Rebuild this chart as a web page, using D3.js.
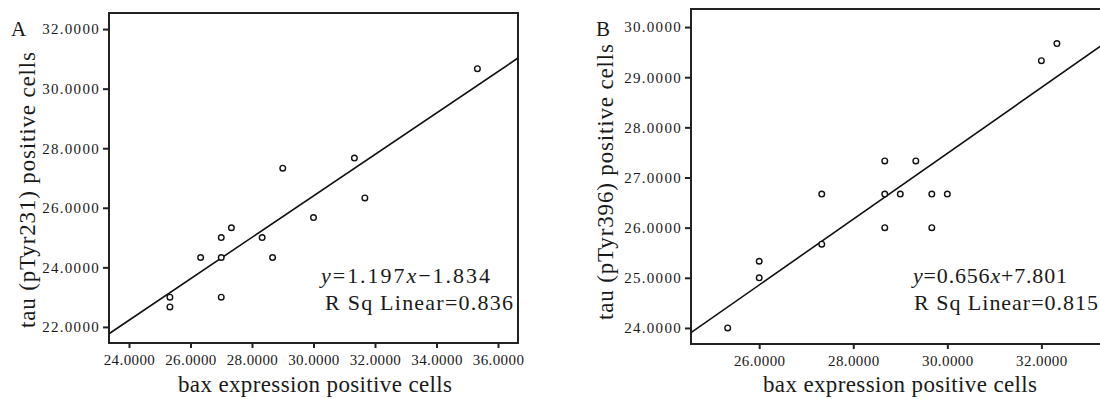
<!DOCTYPE html>
<html><head><meta charset="utf-8">
<script src="https://cdn.jsdelivr.net/npm/d3@7"></script>
<style>
body{margin:0;background:#fff;}
text{font-family:"Liberation Serif","Times New Roman",serif;fill:#1a1a1a;}
</style></head>
<body><svg id="c" width="1100" height="399"></svg>
<script>
// ---- data ----
const baxA   = [25.33,25.33,26.33,27.00,27.00,27.00,27.33,28.33,28.67,29.00,30.00,31.33,31.67,35.33];
const tau231 = [23.00,22.67,24.33,25.00,24.33,23.00,25.33,25.00,24.33,27.33,25.67,27.67,26.33,30.67];
const baxB   = [25.33,26.00,26.00,27.33,27.33,28.67,28.67,28.67,29.00,29.33,29.67,29.67,30.00,32.00,32.33];
const tau396 = [24.00,25.00,25.33,25.67,26.67,27.33,26.67,26.00,26.67,27.33,26.67,26.00,26.67,29.33,29.67];
const xTicksA = [24,26,28,30,32,34,36];
const yTicksA = [22,24,26,28,30,32];
const xTicksB = [26,28,30,32];
const yTicksB = [24,25,26,27,28,29,30];
const fitA = [0.696, 5.52];   // slope, intercept of drawn line (panel A)
const fitB = [0.656, 7.801];  // panel B
const eqA = ["1.197", "1.834", "0.836"];
const eqB = ["0.656", "7.801", "0.815"];
const xTitle = "bax expression positive cells";
const yTitleA = "tau (pTyr231) positive cells";
const yTitleB = "tau (pTyr396) positive cells";

const svg = d3.select("#c");
const fmt = d3.format(".4f");

function panel(o){
  const g = svg.append("g");
  const x = d3.scaleLinear().domain(o.xd).range([o.L, o.R]);
  const y = d3.scaleLinear().domain(o.yd).range([o.B, o.T]);
  // frame
  g.append("rect").attr("x",o.L).attr("y",o.T).attr("width",o.R-o.L).attr("height",o.B-o.T)
    .attr("fill","none").attr("stroke","#222").attr("stroke-width",2);
  // axes
  const ya = g.append("g").attr("transform",`translate(${o.L},0)`)
    .call(d3.axisLeft(y).tickValues(o.yt).tickSize(6).tickPadding(3).tickFormat(fmt));
  ya.select(".domain").remove();
  ya.selectAll("line").attr("stroke","#222").attr("stroke-width",2);
  ya.selectAll("text").attr("font-size",15).attr("letter-spacing",o.ylsp).attr("fill","#333")
    .style("font-family",'"Liberation Serif",serif');
  const xa = g.append("g").attr("transform",`translate(0,${o.B})`)
    .call(d3.axisBottom(x).tickValues(o.xt).tickSize(5).tickPadding(6).tickFormat(fmt));
  xa.select(".domain").remove();
  xa.selectAll("line").attr("stroke","#222").attr("stroke-width",2);
  xa.selectAll("text").attr("font-size",o.xfs).attr("letter-spacing",o.xlsp).attr("fill","#333")
    .style("font-family",'"Liberation Serif",serif');
  // fit line
  const x0 = o.xd[0], x1 = o.lineX1 ?? o.xd[1];
  g.append("line").attr("x1",x(x0)).attr("y1",y(o.fit[0]*x0+o.fit[1]))
    .attr("x2",x(x1)).attr("y2",y(o.fit[0]*x1+o.fit[1]))
    .attr("stroke","#111").attr("stroke-width",1.6);
  // points
  g.selectAll("circle.p").data(o.xs.map((v,i)=>[v,o.ys[i]])).join("circle")
    .attr("cx",d=>x(d[0])).attr("cy",d=>y(d[1])).attr("r",2.8)
    .attr("fill","#fff").attr("stroke","#111").attr("stroke-width",1.4);
  // titles
  g.append("text").attr("x",o.xtx).attr("y",392).attr("text-anchor","middle")
    .attr("font-size",23).attr("textLength",274).attr("lengthAdjust","spacing").text(xTitle);
  g.append("text").attr("transform",`translate(${o.ytx},${o.yty}) rotate(-90)`).attr("text-anchor","middle")
    .attr("font-size",23).attr("textLength",276).attr("lengthAdjust","spacing").text(o.ytitle);
  g.append("text").attr("x",o.lab[0]).attr("y",o.lab[1]).attr("font-size",21).text(o.label);
  // equation
  const t1 = g.append("text").attr("x",o.eq1[0]).attr("y",o.eq1[1]).attr("font-size",22)
    .attr("textLength",o.eq1[2]).attr("lengthAdjust","spacing");
  t1.append("tspan").attr("font-style","italic").text("y");
  t1.append("tspan").text("="+o.eq[0]);
  t1.append("tspan").attr("font-style","italic").text("x");
  t1.append("tspan").text(o.sign+o.eq[1]);
  g.append("text").attr("x",o.eq2[0]).attr("y",o.eq2[1]).attr("font-size",22)
    .attr("textLength",o.eq2[2]).attr("lengthAdjust","spacing").text("R Sq Linear="+o.eq[2]);
}

panel({L:109,R:518,T:13,B:343,xd:[23.35,36.65],yd:[21.46,32.54],xt:xTicksA,yt:yTicksA,
  xs:baxA,ys:tau231,fit:fitA,xfs:15,xlsp:0.4,ylsp:1.3,xtx:315,ytx:35,yty:190,ytitle:yTitleA,
  label:"A",lab:[11,36],eq:eqA,sign:"\u2212",eq1:[321,283,169],eq2:[325,310,188]});
panel({L:691,R:1103,T:9,B:344,xd:[24.55,33.31],yd:[23.68,30.36],xt:xTicksB,yt:yTicksB,
  xs:baxB,ys:tau396,fit:fitB,xfs:15,xlsp:0.4,ylsp:1.3,xtx:900,ytx:613,yty:182,ytitle:yTitleB,
  label:"B",lab:[596,36],eq:eqB,sign:"+",eq1:[913,283,154],eq2:[914,310,184]});
</script></body></html>
